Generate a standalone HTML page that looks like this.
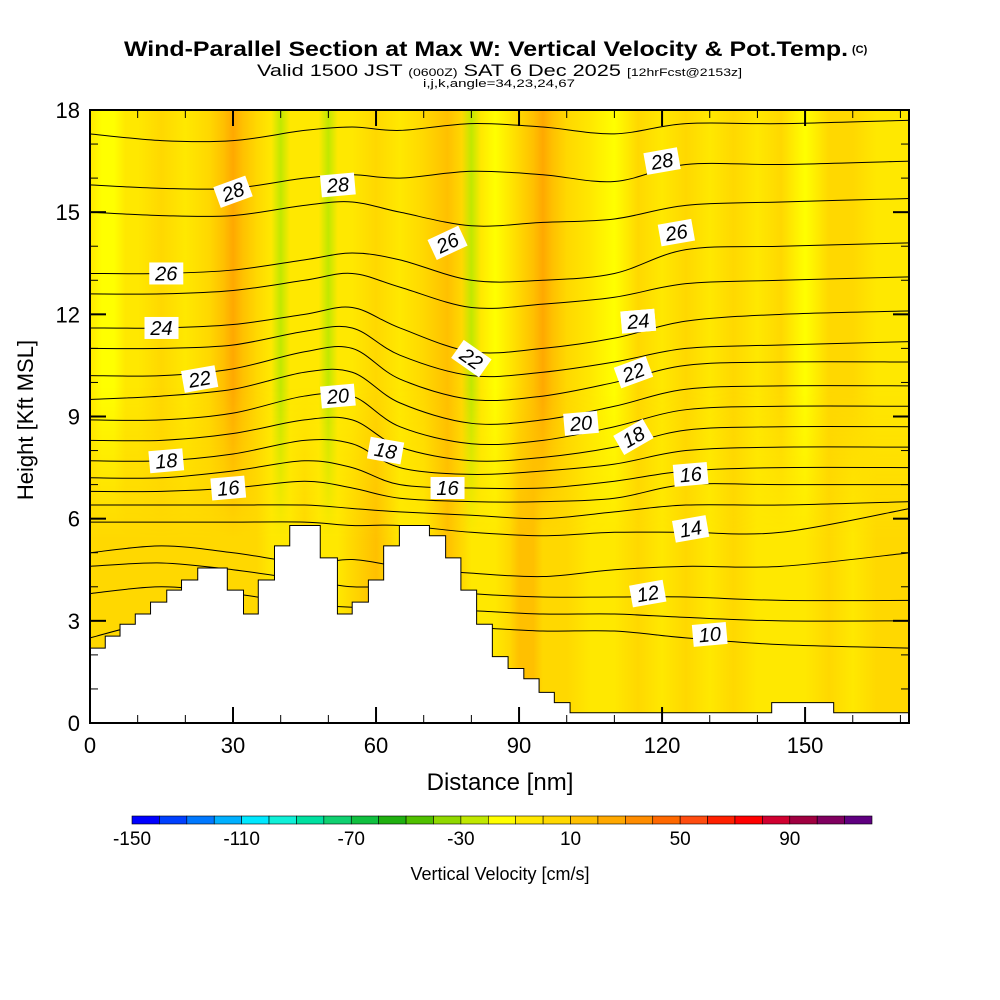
<!DOCTYPE html>
<html><head><meta charset="utf-8"><style>
html,body{margin:0;padding:0;background:#fff}
svg{display:block}
text{font-family:"Liberation Sans",sans-serif}
</style></head><body>
<svg id="chart" width="1000" height="1000" viewBox="0 0 1000 1000" xmlns="http://www.w3.org/2000/svg">
<text x="124" y="56" font-size="21" font-weight="bold" textLength="724" lengthAdjust="spacingAndGlyphs">Wind-Parallel Section at Max W: Vertical Velocity &amp; Pot.Temp.</text>
<text x="852" y="53" font-size="11" font-weight="bold">(C)</text>
<text x="257" y="76" font-size="17" textLength="485" lengthAdjust="spacingAndGlyphs">Valid 1500 JST <tspan font-size="11">(0600Z)</tspan> SAT 6 Dec 2025 <tspan font-size="11">[12hrFcst@2153z]</tspan></text>
<text x="423" y="87" font-size="11" textLength="152" lengthAdjust="spacingAndGlyphs">i,j,k,angle=34,23,24,67</text>
<g id="plot"></g>
</svg>
<script>
// ---- data ----
const distCols = [0,2.5,5,7.5,10,15,20,25,28,30,32,35,38,40,42,45,48,50,52,55,60,65,70,75,78,80,82,85,88,90,93,95,97,100,105,110,115,120,125,130,135,140,145,150,155,160,165,172];
const wUpper = [-5,-12,-15,-5,-5,5,-5,5,10,22,10,5,-5,-25,-5,-5,-5,-22,-5,-5,5,-5,5,12,5,-22,-5,-12,-5,5,12,22,12,5,-5,-12,5,-5,5,-5,5,-5,5,-12,5,5,-5,-5];
const wLower = [5,5,5,5,5,5,5,5,5,5,5,5,-5,-5,-5,5,-5,-5,-5,5,15,-5,-5,15,5,-5,-5,-5,5,15,15,5,5,5,-5,-5,5,-5,5,-5,5,-5,-5,-5,5,-5,5,5];
const contourX = [0,15,30,45,55,65,80,95,110,125,145,172];
const thetaLevels = [10,11,12,13,14,15,16,17,18,19,20,21,22,23,24,25,26,27,28,29];
const thetaHeights = [
 [2.5,3.0,3.0,2.8,2.8,2.8,2.8,2.7,2.7,2.5,2.3,2.2],
 [3.8,4.0,3.8,3.5,3.4,3.4,3.3,3.2,3.2,3.1,3.0,3.0],
 [4.6,4.7,4.5,4.2,4.0,4.0,3.8,3.7,3.7,3.7,3.6,3.6],
 [5.0,5.2,5.0,4.7,4.8,4.6,4.4,4.3,4.5,4.6,4.6,5.0],
 [5.9,5.9,5.9,5.9,5.8,5.8,5.6,5.5,5.6,5.6,5.6,6.3],
 [6.4,6.4,6.4,6.4,6.3,6.2,6.1,6.0,6.2,6.4,6.4,6.5],
 [6.8,6.8,6.9,7.1,6.9,6.6,6.5,6.5,6.6,7.0,7.0,7.0],
 [7.2,7.2,7.4,7.7,7.5,7.0,6.9,6.9,7.1,7.4,7.5,7.5],
 [7.7,7.7,7.9,8.3,8.2,7.5,7.3,7.4,7.6,8.0,8.1,8.1],
 [8.3,8.3,8.5,8.9,8.9,8.1,7.7,7.8,8.1,8.6,8.7,8.7],
 [8.9,8.9,9.1,9.6,9.6,8.7,8.2,8.3,8.7,9.2,9.3,9.3],
 [9.5,9.6,9.8,10.3,10.3,9.4,8.8,8.9,9.3,9.8,9.9,9.9],
 [10.2,10.2,10.4,10.9,11.0,10.1,9.5,9.6,10.0,10.5,10.6,10.6],
 [11.0,11.0,11.1,11.5,11.6,10.8,10.2,10.3,10.6,11.0,11.1,11.2],
 [11.6,11.6,11.7,12.0,12.2,11.6,10.9,11.0,11.3,11.8,12.0,12.1],
 [12.6,12.6,12.7,13.0,13.2,12.8,12.2,12.3,12.5,12.9,13.0,13.1],
 [13.2,13.2,13.3,13.6,13.8,13.6,13.0,13.0,13.2,13.9,14.0,14.1],
 [15.0,14.9,14.9,15.2,15.3,15.0,14.6,14.7,14.8,15.2,15.3,15.4],
 [15.8,15.7,15.7,16.0,16.1,16.0,16.2,16.1,15.9,16.4,16.4,16.5],
 [17.3,17.1,17.1,17.4,17.5,17.4,17.6,17.5,17.3,17.6,17.6,17.7]
];
const labelText = ["28","26","24","22","18","16","20","18","16","28","26","24","22","28","26","24","22","20","18","16","14","12","10"];
const labelX =    [30,16,15,23,16,29,52,62,75,52,75,115,80,120,123,115,114,103,114,126,126,117,130];
const labelY =    [15.6,13.2,11.6,10.1,7.7,6.9,9.6,8.0,6.9,15.8,14.1,11.8,10.7,16.5,14.4,11.8,10.3,8.8,8.4,7.3,5.7,3.8,2.6];
const labelRot =  [-20,0,0,-10,-5,-5,-5,10,0,-5,-25,-5,35,-10,-10,-5,-20,-5,-30,-5,-10,-10,-5];
const terrainX = [0,3.2,6.3,9.5,12.7,16.1,19.2,22.6,28.8,32.2,35.3,38.7,41.9,48.3,51.9,55.0,58.4,61.6,64.9,71.2,74.6,77.8,81.1,84.4,87.7,91.0,94.2,97.4,100.7,143,156,172];
const terrainH = [2.2,2.55,2.9,3.2,3.55,3.9,4.2,4.55,3.9,3.2,4.2,5.2,5.8,4.85,3.2,3.55,4.2,5.2,5.8,5.5,4.85,3.9,2.9,1.95,1.6,1.3,0.9,0.6,0.3,0.6,0.3,0.3];
const cbValues = [-150,-140,-130,-120,-110,-100,-90,-80,-70,-60,-50,-40,-30,-20,-10,0,10,20,30,40,50,60,70,80,90,100,110];
const cbColors = ["#0000ff","#0040ff","#0078ff","#00b0ff","#00e8ff","#10f0d8","#00e0a0","#10d070","#10c040","#20b010","#50c000","#90d800","#c0e800","#ffff00","#ffe800","#ffd800","#ffc000","#ffa800","#ff8c00","#ff6800","#ff4c10","#ff2000","#ff0000","#d00030","#a00040","#800060","#600080"];
const cbTicks = [-150,-110,-70,-30,10,50,90];
const xTicks = [0,30,60,90,120,150];
const yTicks = [0,3,6,9,12,15,18];

// ---- axes ----
const L=90,R=909,T=110,B=723;
const xMin=0,xMax=171.8,yMin=0,yMax=18;
const sx=v=>L+(v-xMin)/(xMax-xMin)*(R-L);
const sy=v=>B-(v-yMin)/(yMax-yMin)*(B-T);
const NS="http://www.w3.org/2000/svg";
const plot=document.getElementById('plot');
function mk(tag,attrs,parent){const e=document.createElementNS(NS,tag);for(const k in attrs)e.setAttribute(k,attrs[k]);(parent||plot).appendChild(e);return e;}
function wColor(w){let i=Math.floor((w-(-150))/10);i=Math.max(0,Math.min(cbColors.length-1,i));return cbColors[i];}

const defs=mk('defs',{});
function grad(id,vals){const g=mk('linearGradient',{id:id,x1:sx(0),x2:sx(xMax),y1:0,y2:0,gradientUnits:'userSpaceOnUse'},defs);
 vals.forEach((w,i)=>{mk('stop',{offset:(distCols[i]/xMax),'stop-color':wColor(w)},g);});}
grad('gU',wUpper);grad('gL',wLower);
const vg=mk('linearGradient',{id:'vmask',x1:0,x2:0,y1:0,y2:1},defs);
mk('stop',{offset:0,'stop-color':'#fff','stop-opacity':0},vg);
mk('stop',{offset:0.45,'stop-color':'#fff','stop-opacity':0},vg);
mk('stop',{offset:0.7,'stop-color':'#fff','stop-opacity':1},vg);
mk('stop',{offset:1,'stop-color':'#fff','stop-opacity':1},vg);
const m=mk('mask',{id:'lowmask'},defs);
mk('rect',{x:L,y:T,width:R-L,height:B-T,fill:'url(#vmask)'},m);

const field=mk('rect',{x:L,y:T,width:R-L,height:B-T,fill:'url(#gU)'});


const field2=mk('rect',{x:L,y:T,width:R-L,height:B-T,fill:'url(#gL)',mask:'url(#lowmask)'});



// contours
const cg=mk('g',{});


function smoothPath(pts){let d=`M${pts[0][0]},${pts[0][1]}`;
 for(let i=0;i<pts.length-1;i++){const p0=pts[Math.max(0,i-1)],p1=pts[i],p2=pts[i+1],p3=pts[Math.min(pts.length-1,i+2)];
  const c1=[p1[0]+(p2[0]-p0[0])/6,p1[1]+(p2[1]-p0[1])/6],c2=[p2[0]-(p3[0]-p1[0])/6,p2[1]-(p3[1]-p1[1])/6];
  d+=` C${c1[0]},${c1[1]} ${c2[0]},${c2[1]} ${p2[0]},${p2[1]}`;}return d;}
thetaLevels.forEach((lv,i)=>{
 const pts=contourX.map((x,j)=>[sx(x),sy(thetaHeights[i][j])]);
 const p=mk('path',{d:smoothPath(pts),fill:'none',stroke:'#000','stroke-width':1},cg);
 
 
});

// terrain
let td=`M${sx(0)},${sy(0)}`;
terrainX.forEach((x,i)=>{const nx=i+1<terrainX.length?terrainX[i+1]:xMax;td+=` L${sx(x)},${sy(terrainH[i])} L${sx(nx)},${sy(terrainH[i])}`;});
td+=` L${sx(xMax)},${sy(0)} Z`;
const terr=mk('path',{d:td,fill:'#fff',stroke:'#000','stroke-width':1});



// contour labels
labelText.forEach((t,i)=>{
 const g=mk('g',{transform:`translate(${sx(labelX[i])},${sy(labelY[i])}) rotate(${labelRot[i]})`});
 
 
 mk('rect',{x:-17,y:-11,width:34,height:22,fill:'#fff'},g);
 const tx=mk('text',{x:0,y:7,'text-anchor':'middle','font-size':20,'font-family':'"Liberation Serif",serif','font-style':'italic'},g);
 tx.textContent=t;
});

// frame & ticks
const fr=mk('rect',{x:L,y:T,width:R-L,height:B-T,fill:'none',stroke:'#000','stroke-width':2});


const tg=mk('g',{stroke:'#000'});
for(let v=0;v<=170;v+=10){const maj=v%30===0;const len=maj?16:8;const w=maj?2:1;
 mk('line',{x1:sx(v),x2:sx(v),y1:B,y2:B-len,'stroke-width':w},tg);mk('line',{x1:sx(v),x2:sx(v),y1:T,y2:T+len,'stroke-width':w},tg);}
for(let v=0;v<=18;v+=1){const maj=v%3===0;const len=maj?16:8;const w=maj?2:1;
 mk('line',{x1:L,x2:L+len,y1:sy(v),y2:sy(v),'stroke-width':w},tg);mk('line',{x1:R,x2:R-len,y1:sy(v),y2:sy(v),'stroke-width':w},tg);}
xTicks.forEach(v=>{const t=mk('text',{x:sx(v),y:753,'text-anchor':'middle','font-size':22});t.textContent=v;
 
 });
yTicks.forEach(v=>{const t=mk('text',{x:80,y:sy(v)+8,'text-anchor':'end','font-size':22});t.textContent=v;
 
 });
const xt=mk('text',{x:500,y:790,'text-anchor':'middle','font-size':24});xt.textContent='Distance [nm]';


const yt=mk('text',{x:0,y:0,'text-anchor':'middle','font-size':22,transform:'translate(33,420) rotate(-90)'});yt.textContent='Height [Kft MSL]';



// colorbar
const cbL=132,cbR=872,cbT=816,cbH=8;
const cbw=(cbR-cbL)/cbColors.length;
const cb=mk('g',{});


cbColors.forEach((c,i)=>{const r=mk('rect',{x:cbL+i*cbw,y:cbT,width:cbw,height:cbH,fill:c,stroke:'#000','stroke-width':0.6},cb);
 
 });
cbTicks.forEach(v=>{const i=cbValues.indexOf(v);const t=mk('text',{x:cbL+i*cbw,y:845,'text-anchor':'middle','font-size':19},cb);t.textContent=v;
 
 });
const ct=mk('text',{x:500,y:880,'text-anchor':'middle','font-size':18});ct.textContent='Vertical Velocity [cm/s]';


</script>
</body></html>
